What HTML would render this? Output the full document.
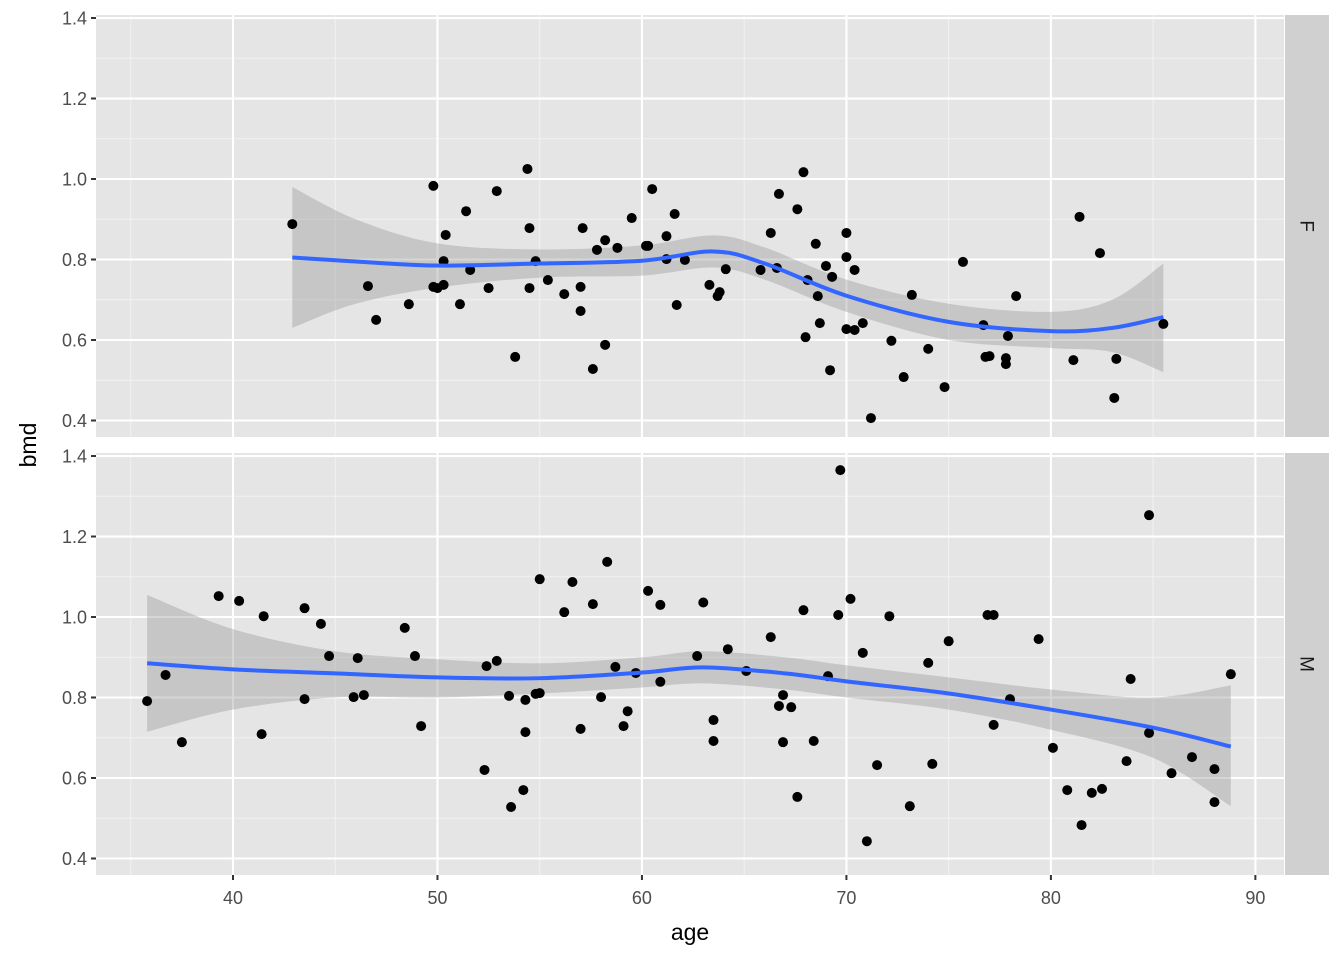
<!DOCTYPE html>
<html><head><meta charset="utf-8"><style>
html,body{margin:0;padding:0;background:#fff;}
svg{display:block;font-family:"Liberation Sans",Arial,sans-serif;}
</style></head><body>
<svg id="chart" width="1344" height="960"></svg>
<script>
const xTicks=[40,50,60,70,80,90];
const xMinor=[35,45,55,65,75,85];
const yTicks=[0.4,0.6,0.8,1.0,1.2,1.4];
const yTickLabels=["0.4","0.6","0.8","1.0","1.2","1.4"];
const yMinor=[0.5,0.7,0.9,1.1,1.3];
const facets=["F","M"];
const fAge=[42.9,46.6,47.0,48.6,49.8,49.8,50.0,50.3,50.4,50.3,51.1,51.4,51.6,52.5,52.9,53.8,54.4,54.5,54.5,54.8,55.4,56.2,57.0,57.0,57.1,57.6,57.8,58.2,58.2,58.8,59.5,60.2,60.3,60.5,61.2,61.2,61.6,61.7,62.1,63.3,63.7,63.8,64.1,65.8,66.3,66.6,66.7,67.6,67.9,68.0,68.1,68.5,68.6,68.7,69.0,69.3,69.2,70.0,70.0,70.0,70.4,70.4,70.8,71.2,72.2,72.8,73.2,74.0,74.8,75.7,76.7,76.8,77.0,77.8,77.8,77.9,78.3,81.1,81.4,82.4,83.1,83.2,85.5];
const fBmd=[0.888,0.734,0.650,0.689,0.983,0.732,0.729,0.796,0.861,0.737,0.689,0.920,0.774,0.729,0.970,0.558,1.025,0.878,0.729,0.796,0.749,0.714,0.732,0.672,0.878,0.528,0.824,0.588,0.848,0.829,0.903,0.834,0.834,0.975,0.858,0.801,0.913,0.687,0.799,0.737,0.709,0.719,0.776,0.774,0.866,0.779,0.963,0.925,1.017,0.607,0.749,0.839,0.709,0.642,0.784,0.757,0.525,0.866,0.806,0.627,0.774,0.625,0.642,0.406,0.598,0.508,0.712,0.578,0.483,0.794,0.637,0.558,0.560,0.555,0.540,0.610,0.709,0.550,0.906,0.816,0.456,0.553,0.640];
const mAge=[35.8,36.7,37.5,39.3,40.3,41.5,41.4,43.5,43.5,44.3,44.7,45.9,46.1,46.4,48.4,48.9,49.2,52.3,52.4,52.9,53.5,53.6,54.2,54.3,54.3,54.8,55.0,55.0,56.2,56.6,57.0,57.6,58.0,58.3,58.7,59.1,59.3,59.7,60.3,60.9,60.9,63.0,62.7,63.5,63.5,64.2,65.1,66.3,66.7,66.9,66.9,67.3,67.6,67.9,68.4,69.1,69.6,69.7,70.2,70.8,71.0,71.5,72.1,73.1,74.0,74.2,75.0,76.9,77.2,77.2,78.0,79.4,80.1,80.8,81.5,82.0,82.5,83.7,83.9,84.8,84.8,85.9,86.9,88.0,88.0,88.8];
const mBmd=[0.791,0.856,0.689,1.052,1.040,1.002,0.709,1.022,0.796,0.983,0.903,0.801,0.898,0.806,0.973,0.903,0.729,0.620,0.878,0.891,0.804,0.528,0.570,0.714,0.794,0.809,0.811,1.094,1.012,1.087,0.722,1.032,0.801,1.137,0.876,0.729,0.766,0.861,1.065,1.030,0.839,1.036,0.903,0.692,0.744,0.920,0.866,0.950,0.779,0.806,0.689,0.776,0.553,1.017,0.692,0.853,1.005,1.365,1.045,0.911,0.443,0.632,1.002,0.530,0.886,0.635,0.940,1.005,1.005,0.732,0.796,0.945,0.675,0.570,0.483,0.563,0.573,0.642,0.846,1.253,0.712,0.612,0.652,0.622,0.540,0.858];
const fFitAge=[42.9,46,50,55,60,63.5,66,70,75,80,83,85.5];
const fFit=[0.805,0.795,0.785,0.79,0.797,0.82,0.79,0.71,0.645,0.622,0.63,0.657];
const fLo=[0.63,0.69,0.73,0.755,0.76,0.78,0.75,0.67,0.60,0.58,0.57,0.52];
const fHi=[0.98,0.90,0.84,0.825,0.835,0.86,0.83,0.75,0.69,0.67,0.70,0.79];
const mFitAge=[35.8,40,45,50,55,60,63,67,70,75,80,85,88.8];
const mFit=[0.885,0.87,0.86,0.85,0.848,0.862,0.875,0.86,0.84,0.81,0.77,0.725,0.678];
const mLo=[0.715,0.77,0.80,0.80,0.81,0.825,0.835,0.82,0.80,0.77,0.72,0.65,0.53];
const mHi=[1.055,0.97,0.915,0.895,0.885,0.90,0.915,0.90,0.88,0.85,0.82,0.80,0.83];

const NS="http://www.w3.org/2000/svg";
const svg=document.getElementById('chart');
const PL=96,PR=1284;
const panels=[{top:15,bot:437,age:fAge,bmd:fBmd,fa:fFitAge,fit:fFit,lo:fLo,hi:fHi},{top:453,bot:875,age:mAge,bmd:mBmd,fa:mFitAge,fit:mFit,lo:mLo,hi:mHi}];
const xMin=33.3,xMax=91.4,yMin=0.359,yMax=1.4075;
function X(a){return PL+(a-xMin)/(xMax-xMin)*(PR-PL);}
function mk(tag,attrs,parent){const e=document.createElementNS(NS,tag);for(const k in attrs)e.setAttribute(k,attrs[k]);(parent||svg).appendChild(e);return e;}
function smooth(pts){let d='M'+pts[0][0]+','+pts[0][1];for(let i=0;i<pts.length-1;i++){const p0=pts[Math.max(0,i-1)],p1=pts[i],p2=pts[i+1],p3=pts[Math.min(pts.length-1,i+2)];const c1=[p1[0]+(p2[0]-p0[0])/6,p1[1]+(p2[1]-p0[1])/6],c2=[p2[0]-(p3[0]-p1[0])/6,p2[1]-(p3[1]-p1[1])/6];d+=' C'+c1+' '+c2+' '+p2;}return d;}
panels.forEach((p,pi)=>{
  const Y=v=>p.bot-(v-yMin)/(yMax-yMin)*(p.bot-p.top);
  const g=mk('g',{});
  
  
  mk('rect',{x:PL,y:p.top,width:PR-PL,height:p.bot-p.top,fill:'#e5e5e5'},g);
  yMinor.forEach(v=>mk('line',{x1:PL,x2:PR,y1:Y(v),y2:Y(v),stroke:'#f2f2f2','stroke-width':1},g));
  xMinor.forEach(v=>mk('line',{x1:X(v),x2:X(v),y1:p.top,y2:p.bot,stroke:'#f2f2f2','stroke-width':1},g));
  yTicks.forEach(v=>mk('line',{x1:PL,x2:PR,y1:Y(v),y2:Y(v),stroke:'#fff','stroke-width':2.1},g));
  xTicks.forEach(v=>mk('line',{x1:X(v),x2:X(v),y1:p.top,y2:p.bot,stroke:'#fff','stroke-width':2.1},g));
  yTicks.forEach((v,i)=>{
    mk('line',{x1:PL-5,x2:PL,y1:Y(v),y2:Y(v),stroke:'#333','stroke-width':2});
    const t=mk('text',{x:PL-9,y:Y(v)+6.5,'text-anchor':'end','font-size':18,fill:'#4d4d4d'});
    
    
    t.textContent=yTickLabels[i];
  });
  const up=p.fa.map((a,i)=>[X(a),Y(p.hi[i])]);
  const dn=p.fa.map((a,i)=>[X(a),Y(p.lo[i])]).reverse();
  let d=smooth(up);const d2=smooth(dn);d+=' L'+dn[0]+' '+d2.slice(1)+' Z';
  const rib=mk('path',{d:d,fill:'#999','fill-opacity':0.4,stroke:'none'},g);
  
  
  p.age.forEach((a,i)=>{
    const c=mk('circle',{cx:X(a),cy:Y(p.bmd[i]),r:5,fill:'#000'},g);
    
    
  });
  const ln=mk('path',{d:smooth(p.fa.map((a,i)=>[X(a),Y(p.fit[i])])),fill:'none',stroke:'#3366ff','stroke-width':4},g);
  
  
  const st=mk('rect',{x:1285,y:p.top,width:44,height:p.bot-p.top,fill:'#d0d0d0'});
  
  
  const cy=(p.top+p.bot)/2;
  const sl=mk('text',{x:1306,y:cy,'text-anchor':'middle','font-size':19,fill:'#1a1a1a',transform:'rotate(90 1306 '+cy+')','dominant-baseline':'central'});
  
  
  sl.textContent=facets[pi];
});
xTicks.forEach(v=>{
  mk('line',{x1:X(v),x2:X(v),y1:875,y2:880,stroke:'#333','stroke-width':2});
  const t=mk('text',{x:X(v),y:904,'text-anchor':'middle','font-size':18,fill:'#4d4d4d'});
  
  
  t.textContent=v;
});
const xt=mk('text',{x:690,y:940,'text-anchor':'middle','font-size':23,fill:'#000'});


xt.textContent='age';
const yt=mk('text',{x:36,y:445,'text-anchor':'middle','font-size':23,fill:'#000',transform:'rotate(-90 36 445)'});


yt.textContent='bmd';
</script>
</body></html>
